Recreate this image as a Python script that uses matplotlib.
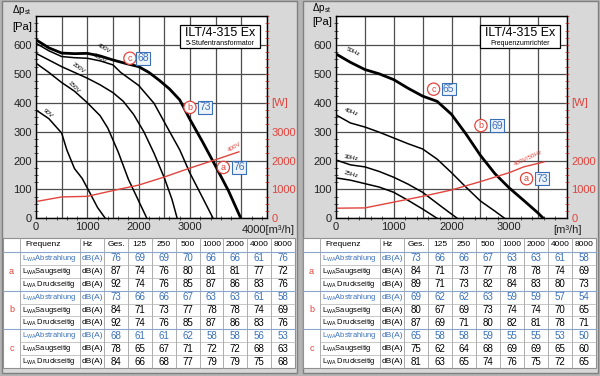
import matplotlib.pyplot as plt
import numpy as np
from matplotlib.patches import Rectangle
from matplotlib.ticker import MultipleLocator

plt.rcParams['font.family'] = ['Liberation Sans', 'DejaVu Sans']
plt.rcParams['mathtext.default'] = 'regular'

RED = '#e0443c'
BLUE = '#3a70b8'
GRID = '#4d4d4d'

# ---- left chart: 5-Stufentransformator (x in m3/h, y in Pa) ----
v400_x = [0, 250, 500, 750, 1000, 1250, 1500, 1750, 2000, 2200, 2400, 2600, 2800, 3000, 3250, 3500, 3750, 3990]
v400_y = [618, 590, 572, 570, 571, 562, 548, 536, 525, 505, 478, 448, 410, 342, 263, 180, 95, 0]
v350_x = [0, 250, 500, 750, 1000, 1250, 1500, 1650, 2000, 2300, 2550, 2800, 3000, 3200, 3450]
v350_y = [606, 580, 560, 556, 554, 545, 531, 505, 460, 398, 317, 237, 156, 87, 0]
v200_x = [0, 250, 500, 750, 1000, 1250, 1500, 1700, 1900, 2100, 2300, 2500, 2650, 2750]
v200_y = [571, 548, 525, 505, 485, 462, 435, 405, 360, 300, 225, 140, 65, 0]
v150_x = [0, 250, 500, 750, 1000, 1250, 1400, 1600, 1800, 2000, 2160]
v150_y = [537, 505, 470, 440, 400, 355, 312, 230, 135, 60, 0]
v90_x = [0, 250, 500, 600, 750, 900, 1050, 1200, 1350]
v90_y = [375, 345, 295, 237, 172, 138, 88, 37, 0]
pw_left_x = [0, 500, 1000, 1500, 2000, 2500, 3000, 3500, 3950]
pw_left_w = [580, 740, 760, 960, 1150, 1430, 1740, 2030, 2300]

# ---- right chart: Frequenzumrichter ----
f50_x = [0, 250, 500, 750, 1000, 1250, 1500, 1750, 2000, 2250, 2500, 2750, 3000, 3250, 3500, 3590]
f50_y = [569, 540, 515, 500, 480, 450, 423, 405, 360, 292, 218, 155, 105, 62, 18, 0]
f40_x = [0, 250, 500, 750, 1000, 1250, 1500, 1750, 2000, 2250, 2500, 2750, 2920]
f40_y = [358, 330, 316, 298, 278, 258, 240, 205, 158, 108, 60, 25, 0]
f30_x = [0, 250, 500, 750, 1000, 1250, 1500, 1750, 1950, 2100]
f30_y = [202, 185, 178, 162, 142, 118, 90, 52, 22, 0]
f25_x = [0, 250, 500, 750, 1000, 1250, 1500, 1750]
f25_y = [140, 132, 120, 108, 90, 62, 32, 0]
pw_right_x = [0, 500, 1000, 1500, 2000, 2500, 3000, 3250, 3600]
pw_right_w = [350, 360, 560, 760, 980, 1270, 1580, 1780, 1950]

# ---- noise tables ----
freqs = ["Ges.", "125", "250", "500", "1000", "2000", "4000", "8000"]
row_names = ["L$_{WA}$Abstrahlung", "L$_{WA}$Saugseitig", "L$_{WA}$ Druckseitig"]
left_a = [[76, 69, 69, 70, 66, 66, 61, 76], [87, 74, 76, 80, 81, 81, 77, 72], [92, 74, 76, 85, 87, 86, 83, 76]]
left_b = [[73, 66, 66, 67, 63, 63, 61, 58], [84, 71, 73, 77, 78, 78, 74, 69], [92, 74, 76, 85, 87, 86, 83, 76]]
left_c = [[68, 61, 61, 62, 58, 58, 56, 53], [78, 65, 67, 71, 72, 72, 68, 63], [84, 66, 68, 77, 79, 79, 75, 68]]
right_a = [[73, 66, 66, 67, 63, 63, 61, 58], [84, 71, 73, 77, 78, 78, 74, 69], [89, 71, 73, 82, 84, 83, 80, 73]]
right_b = [[69, 62, 62, 63, 59, 59, 57, 54], [80, 67, 69, 73, 74, 74, 70, 65], [87, 69, 71, 80, 82, 81, 78, 71]]
right_c = [[65, 58, 58, 59, 55, 55, 53, 50], [75, 62, 64, 68, 69, 69, 65, 60], [81, 63, 65, 74, 76, 75, 72, 65]]

fig = plt.figure(figsize=(6, 3.76), dpi=100, facecolor='#b4b4b4')

# background in pixel coordinates
bg = fig.add_axes([0, 0, 1, 1], zorder=-10)
bg.set_xlim(0, 600)
bg.set_ylim(376, 0)
bg.axis('off')
for x0 in (2, 303):
    bg.add_patch(Rectangle((x0, 1), 295, 372, fc='#d8d8d8', ec='#808080', lw=1))


def draw_table(x0, x1, groups):
    cols = [x0, x0 + 17, x0 + 77, x0 + 101]
    w = (x1 - cols[-1]) / 8
    cols += [cols[3] + w * (i + 1) for i in range(8)]
    top, head = 238, 252
    rh = (368 - head) / 9
    bg.add_patch(Rectangle((x0, top), x1 - x0, 368 - top, fc='white', ec='#909090', lw=0.8))
    for c in cols[1:-1]:
        bg.plot([c, c], [top, 368], color='#a0a0a0', lw=0.6)
    for k in range(1, 9):
        y = head + rh * k
        if k % 3 == 0:
            bg.plot([x0, x1], [y, y], color='#8aa6cc', lw=0.8)
        else:
            bg.plot([cols[1], x1], [y, y], color='#b0b0b0', lw=0.5)
    bg.plot([x0, x1], [head, head], color='#8aa6cc', lw=0.8)
    fs = 6
    bg.text(cols[1] + 5, (top + head) / 2, "Frequenz", fontsize=fs, va='center')
    bg.text(cols[2] + 2, (top + head) / 2, "Hz", fontsize=fs, va='center')
    for i, f in enumerate(freqs):
        bg.text((cols[3 + i] + cols[4 + i]) / 2, (top + head) / 2, f, fontsize=fs, ha='center', va='center')
    for g, (letter, rows) in enumerate(zip("abc", groups)):
        bg.text((cols[0] + cols[1]) / 2, head + rh * (3 * g + 1.5), letter, color=RED,
                fontsize=6.5, ha='center', va='center')
        for r, vals in enumerate(rows):
            yc = head + rh * (3 * g + r + 0.5)
            col = BLUE if r == 0 else 'black'
            bg.text(cols[1] + 2, yc, row_names[r], fontsize=5.4, color=col, va='center')
            bg.text(cols[2] + 2, yc, "dB(A)", fontsize=6, color=col, va='center')
            for i, v in enumerate(vals):
                bg.text((cols[3 + i] + cols[4 + i]) / 2, yc, str(v), fontsize=7, color=col,
                        ha='center', va='center')


draw_table(3, 295, [left_a, left_b, left_c])
draw_table(303, 596, [right_a, right_b, right_c])


def setup_axes(left_px, xmax, wmax_label):
    ax = fig.add_axes([left_px / 600, 1 - 218.3 / 376, 231 / 600, 202.2 / 376])
    ax.set_xlim(0, xmax)
    ax.set_ylim(0, 700)
    xt = np.arange(0, xmax + 1, 500)
    ax.set_xticks(xt)
    ax.set_xticklabels([str(int(v)) if v % 1000 == 0 and v < 4000 else '' for v in xt])
    ax.set_yticks(np.arange(0, 701, 100))
    ax.set_yticklabels([str(v) if v < 700 else '' for v in range(0, 701, 100)])
    ax.grid(True, color=GRID, lw=0.9)
    ax.set_axisbelow(True)
    ax.tick_params(which='major', length=0, labelsize=8, pad=3, colors='#222222')
    ax.xaxis.set_minor_locator(MultipleLocator(200))
    ax.yaxis.set_minor_locator(MultipleLocator(25))
    ax.tick_params(which='minor', length=2.5, direction='inout', color='#333333', width=0.6)
    for s in ax.spines.values():
        s.set_color('#333333')
        s.set_linewidth(1)
    axr = ax.twinx()
    axr.set_ylim(0, 7000)
    axr.set_yticks(np.arange(0, wmax_label + 1, 1000))
    axr.yaxis.set_minor_locator(MultipleLocator(250))
    axr.tick_params(which='major', length=0, labelsize=8, pad=3, labelcolor=RED)
    axr.tick_params(which='minor', length=2.5, direction='inout', color=RED, width=0.6)
    axr.text(1.02, 400 / 700, "[W]", transform=ax.transAxes, color=RED, fontsize=8, va='center')
    return ax, axr


def title_box(ax, sub):
    ax.add_patch(Rectangle((0.623, 0.842), 0.347, 0.114, transform=ax.transAxes,
                           fc='white', ec='black', lw=0.9, zorder=5))
    ax.text(0.7965, 0.918, "ILT/4-315 Ex", transform=ax.transAxes, fontsize=9,
            ha='center', va='center', zorder=6)
    ax.text(0.7965, 0.865, sub, transform=ax.transAxes, fontsize=5,
            ha='center', va='center', zorder=6)


def marker(ax, x, y, letter, num, dx):
    ax.text(x, y, letter, color=RED, fontsize=6.5, ha='center', va='center', zorder=6,
            bbox=dict(boxstyle='circle,pad=0.18', fc='white', ec=RED, lw=0.9))
    ax.text(x + dx, y, str(num), color=BLUE, fontsize=7.5, ha='center', va='center', zorder=6,
            bbox=dict(boxstyle='square,pad=0.12', fc='#eef3fa', ec=BLUE, lw=0.8))


# ---- left chart ----
axL, axLr = setup_axes(36, 4500, 3000)
axL.plot(v400_x, v400_y, color='black', lw=2.0)
axL.plot(v350_x, v350_y, color='black', lw=1.1)
axL.plot(v200_x, v200_y, color='black', lw=1.1)
axL.plot(v150_x, v150_y, color='black', lw=1.1)
axL.plot(v90_x, v90_y, color='black', lw=1.1)
axLr.plot(pw_left_x, pw_left_w, color=RED, lw=1.0)
for x, y, t, r in [(1330, 588, "400V", -30), (1240, 553, "350V", -30), (820, 520, "200V", -35),
                   (740, 455, "150V", -45), (230, 362, "90V", -40)]:
    axL.text(x, y, t, fontsize=4.5, rotation=r, ha='center', va='center')
axL.text(3860, 245, "400V", fontsize=4.5, rotation=30, color=RED, ha='center', va='center')
axL.text(4000, -22, "4000[m³/h]", fontsize=8, ha='left', va='top', color='#222222',
         transform=axL.transData)
title_box(axL, "5-Stufentransformator")
marker(axL, 1830, 554, "c", 68, 260)
marker(axL, 3000, 384, "b", 73, 300)
marker(axL, 3650, 176, "a", 76, 305)

# ---- right chart ----
axR, axRr = setup_axes(336, 4000, 2000)
axR.plot(f50_x, f50_y, color='black', lw=2.0)
axR.plot(f40_x, f40_y, color='black', lw=1.1)
axR.plot(f30_x, f30_y, color='black', lw=1.1)
axR.plot(f25_x, f25_y, color='black', lw=1.1)
axRr.plot(pw_right_x, pw_right_w, color=RED, lw=1.0)
for x, y, t, r in [(290, 578, "50Hz", -25), (270, 366, "40Hz", -20), (260, 208, "30Hz", -10),
                   (260, 152, "25Hz", -15)]:
    axR.text(x, y, t, fontsize=4.5, rotation=r, ha='center', va='center')
axR.text(3330, 210, "400V/50Hz", fontsize=4.5, rotation=25, color=RED, ha='center', va='center')
axR.text(4000, -22, "[m³/h]", fontsize=8, ha='center', va='top', color='#222222')
title_box(axR, "Frequenzumrichter")
marker(axR, 1690, 447, "c", 65, 260)
marker(axR, 2510, 321, "b", 69, 280)
marker(axR, 3300, 137, "a", 73, 270)

# axis names
for xp, yp1, yp2 in [(22, 10, 27), (322, 8, 22)]:
    bg.text(xp, yp1, "Δp$_{st}$", fontsize=7, ha='center', va='center')
    bg.text(xp, yp2, "[Pa]", fontsize=8, ha='center', va='center')

fig.savefig('out.png', dpi=100, facecolor=fig.get_facecolor())
